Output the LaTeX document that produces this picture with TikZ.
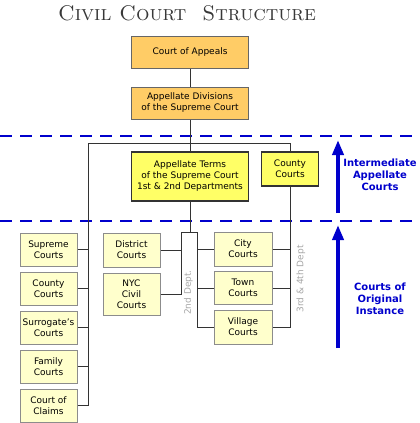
\documentclass[tikz,border=0pt]{standalone}
\usepackage{fontspec}
\setsansfont{DejaVu Sans}
\usepackage{xcolor}
\usetikzlibrary{positioning, arrows, arrows.meta}
\definecolor{appealorange}{HTML}{FFCC66}
\definecolor{termyellow}{HTML}{FFFF66}
\definecolor{trialyellow}{HTML}{FFFFCC}
\definecolor{levelblue}{HTML}{0000CC}
\tikzset{
    court/.style={draw=black!60, line width=1pt, align=center, inner sep=0pt, font=\sffamily\fontsize{9}{11}\selectfont}, % every box
    appeal/.style={court, fill=appealorange, minimum width=117pt, minimum height=32pt},
    term/.style={court, fill=termyellow, draw=black!80, line width=1.2pt},
    trial/.style={court, fill=trialyellow, draw=black!45, minimum width=57pt, minimum height=33pt},
    dept/.style={rotate=90, text=black!35, font=\sffamily\fontsize{9}{11}\selectfont},
    level/.style={text=levelblue, align=center, font=\sffamily\bfseries\fontsize{10}{12}\selectfont},
    levelarrow/.style={draw=levelblue, line width=4pt, -{Triangle[length=15pt, width=11pt]}},
    levelline/.style={draw=levelblue, line width=2.5pt, dash pattern=on 12pt off 8pt},
    link/.style={draw=black!80, line width=0.9pt},
}

\begin{document}
\begin{tikzpicture}[x=1pt, y=-1pt, node distance=39pt]
    \useasboundingbox (0,0) rectangle (420,423);

    \node[text=black!78, font=\fontsize{21.2}{25}\selectfont\scshape] (title) at (187,13) {Civil Court~ Structure};

    % level borders
    \draw[levelline] (0,136) -- (420,136);
    \draw[levelline] (0,221) -- (420,221);

    % appellate courts
    \node[appeal] (coa) at (190,52) {Court of Appeals};
    \node[appeal] (ad) at (190,103) {Appellate Divisions\\of the Supreme Court};
    \node[term, minimum width=117pt, minimum height=49pt] (at) at (190,176.5) {Appellate Terms\\of the Supreme Court\\1st \& 2nd Departments};
    \node[term, minimum width=57pt, minimum height=34pt] (cc) at (290,169) {County\\Courts};

    % courts of original instance
    \node[trial] (sup) at (48.5,249.5) {Supreme\\Courts};
    \node[trial, below of=sup] (cty) {County\\Courts};
    \node[trial, below of=cty] (sur) {Surrogate's\\Courts};
    \node[trial, below of=sur] (fam) {Family\\Courts};
    \node[trial, below of=fam] (clm) {Court of\\Claims};

    \node[trial, minimum height=34pt] (dist) at (131.5,250) {District\\Courts};
    \node[trial, minimum height=42pt] (nyc) at (131.5,294) {NYC\\Civil\\Courts};

    \node[trial, minimum width=58pt, minimum height=34pt] (city) at (243,249) {City\\Courts};
    \node[trial, minimum width=58pt, below of=city] (town) {Town\\Courts};
    \node[trial, minimum width=58pt, minimum height=34pt, below of=town] (vil) {Village\\Courts};

    \coordinate (fl) at (88,143);
    \coordinate (fr) at (290,143);
    \coordinate (jl) at (181,232);
    \coordinate (jr) at (197,232);

    % connectors
    \path[link]
    (coa) edge (ad)
    (ad) edge (at);
    \draw[link] (clm.east) -| (fl) -- (fr) -- (cc);
    \draw[link] (cc) |- (vil.east);
    \foreach \c in {sup, cty, sur, fam}
        \draw[link] (\c.east) -- (\c.east -| fl);
    \draw[link] (at) -- (at |- jl);
    \draw[link] (nyc.east) -| (jl) -- (jr) |- (vil.west);
    \draw[link] (dist.east) -- (dist.east -| jl);
    \foreach \c in {city, town} {
        \draw[link] (\c.west) -- (\c.west -| jr);
        \draw[link] (\c.east) -- (\c.east -| cc);
    }

    \node[dept] (dtwo) at (188.5,292.5) {2nd Dept.};
    \node[dept] (dthree) at (301,279) {3rd \& 4th Dept};

    % levels
    \coordinate (ia0) at (338,213);
    \coordinate (ia1) at (338,140);
    \coordinate (oi0) at (338,348);
    \coordinate (oi1) at (338,225);
    \draw[levelarrow] (ia0) -- (ia1);
    \draw[levelarrow] (oi0) -- (oi1);
    \node[level] (ialabel) at (380,175) {Intermediate\\Appellate\\Courts};
    \node[level] (oilabel) at (380,299) {Courts of\\Original\\Instance};
\end{tikzpicture}
\end{document}
